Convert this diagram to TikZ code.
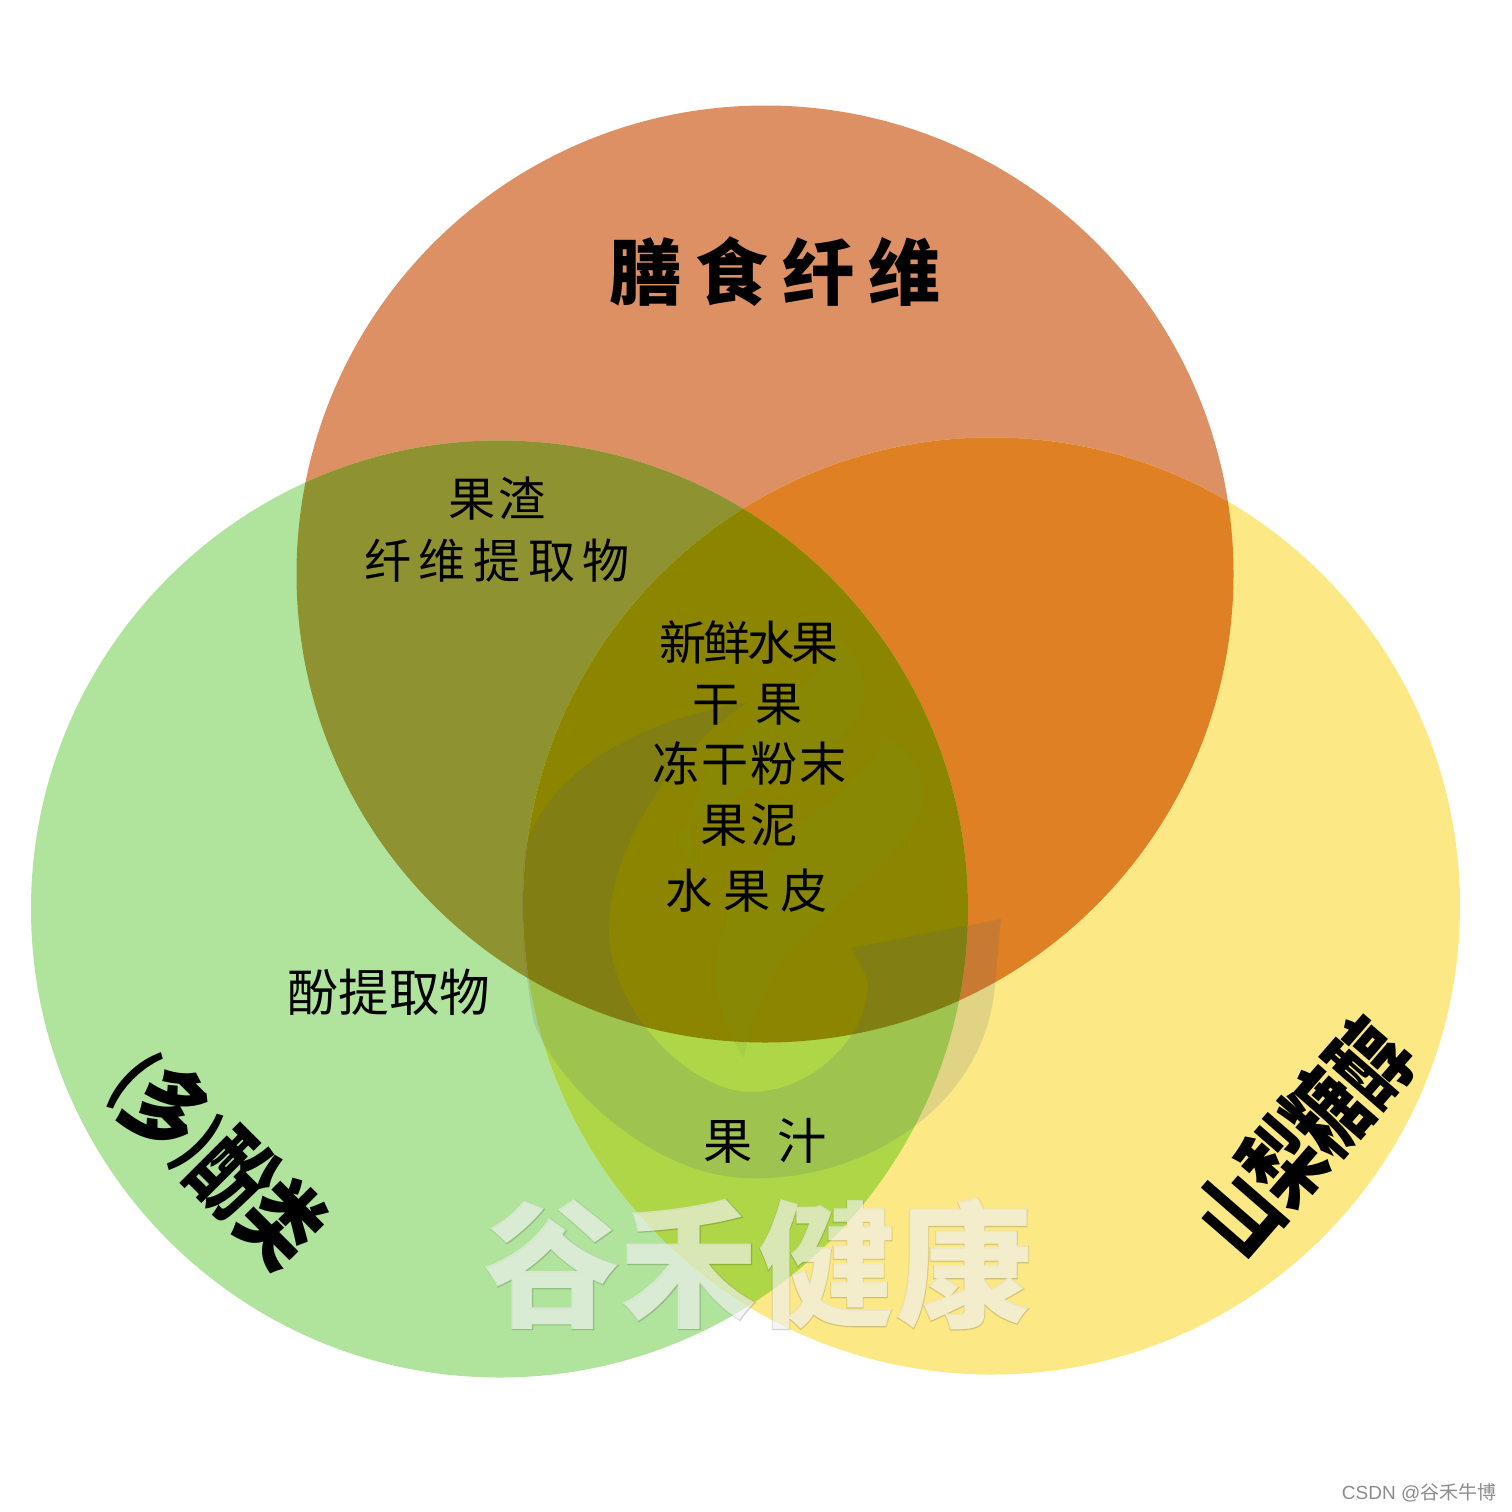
\documentclass[tikz,border=0pt]{standalone}
\usepackage{fontspec}
\setmainfont{Liberation Sans}
\newfontfamily\cjk{Noto Sans CJK SC}
\newfontfamily\cjkblack{Noto Sans CJK SC Black}
\newfontfamily\cjkedge[FakeBold=1]{Noto Sans CJK SC Black}
\usetikzlibrary{positioning}
\definecolor{topc}{HTML}{DD9063}
\definecolor{leftc}{HTML}{B0E49C}
\definecolor{rightc}{HTML}{FCE985}
\definecolor{topleft}{HTML}{8F9230}
\definecolor{topright}{HTML}{E08025}
\definecolor{leftright}{HTML}{AFD647}
\definecolor{centerc}{HTML}{8C8500}
\definecolor{swirl}{HTML}{475882}
\definecolor{flame}{HTML}{6FA030}
\newcommand{\markword}[1]{%
  \pgfsetfillopacity{0.1}\pgfsetstrokeopacity{0.1}\color{black}\rlap{\cjkedge #1}%
  \pgfsetfillopacity{0.62}\pgfsetstrokeopacity{0.62}\color{white}{\cjkblack #1}}

\begin{document}
\begin{tikzpicture}[
  x=0.01cm, y=-0.01cm,
  every node/.style={inner sep=0pt, text=black, align=center},
  item/.style={font=\cjk\fontsize{13.4}{16}\selectfont},
  title/.style={font=\cjkblack\fontsize{20.5}{24}\selectfont},
  squeezed/.style={font=\cjkblack\fontsize{27}{30}\selectfont, transform shape}
]

\useasboundingbox (0,0) rectangle (1512,1512);
\fill[white] (0,0) rectangle (1512,1512);

% three circles
\def\topdisc{(765,574) circle [radius=468.5]}
\def\leftdisc{(499.5,909) circle [radius=468.5]}
\def\rightdisc{(991.5,906) circle [radius=468.5]}

\fill[topc] \topdisc;
\fill[leftc] \leftdisc;
\fill[rightc] \rightdisc;

% overlaps
\begin{scope}
  \clip \topdisc;
  \fill[topleft] \leftdisc;
  \fill[topright] \rightdisc;
\end{scope}
\begin{scope}
  \clip \leftdisc;
  \fill[leftright] \rightdisc;
  \clip \rightdisc;
  \fill[centerc] \topdisc;
\end{scope}

% logo behind the text
\fill[swirl, opacity=0.15] (748,702)
  .. controls (640,720) and (550,770) .. (526,846)
  .. controls (520,880) and (520,950) .. (534,1023)
  .. controls (560,1090) and (660,1181) .. (755,1178)
  .. controls (860,1180) and (985,1110) .. (995,985)
  -- (1001,919)
  -- (851,948)
  .. controls (860,965) and (868,975) .. (868,988)
  .. controls (865,1040) and (810,1092) .. (751,1092)
  .. controls (690,1092) and (609,1010) .. (609,931)
  .. controls (609,840) and (680,745) .. (748,702) -- cycle;
\fill[flame, opacity=0.12] (837,635)
  .. controls (860,660) and (868,680) .. (863,705)
  .. controls (850,750) and (780,770) .. (730,800)
  .. controls (700,815) and (680,825) .. (680,835)
  .. controls (680,850) and (690,865) .. (700,870)
  .. controls (680,830) and (690,780) .. (740,735)
  .. controls (780,700) and (820,680) .. (837,635) -- cycle;
\fill[flame, opacity=0.12] (887,735)
  .. controls (915,755) and (925,775) .. (923,800)
  .. controls (915,850) and (840,900) .. (790,950)
  .. controls (765,985) and (750,1020) .. (744,1058)
  .. controls (725,1030) and (712,990) .. (716,965)
  .. controls (720,900) and (780,840) .. (830,800)
  .. controls (860,775) and (880,755) .. (887,735) -- cycle;

\node[title] (fiber) at (775,272) {\addfontfeature{LetterSpace=20}膳食纤维};

\node[item] (pomace) at (497,499) {\addfontfeature{LetterSpace=5}果渣};
\node[item] (extract) at (497,561) {\addfontfeature{LetterSpace=16}纤维提取物};

\node[item] (fresh) at (749,643) {\addfontfeature{LetterSpace=-6}新鲜水果};
\node[item] (dried) at (748,705) {干\hspace{4.5pt}果};
\node[item] (powder) at (750,763) {\addfontfeature{LetterSpace=4}冻干粉末};
\node[item] (puree) at (749,825) {\addfontfeature{LetterSpace=5}果泥};
\node[item] (peel) at (747,891) {\addfontfeature{LetterSpace=22}水果皮};

\node[item, font=\cjk\fontsize{14.4}{17}\selectfont] (phenol) at (389,992) {酚提取物};
\node[item, font=\cjk\fontsize{14}{17}\selectfont] (juice) at (765,1141) {果\hspace{7pt}汁};

\node[squeezed, rotate=-45, xscale=0.74] (poly) at (218,1158) {\raisebox{2.3pt}{\fontsize{21}{24}\selectfont(}多\raisebox{2.3pt}{\fontsize{21}{24}\selectfont)}酚类};
\node[squeezed, rotate=49, xscale=0.71] (sugar) at (1304,1137) {山梨糖醇};

% watermark
\node[font=\fontsize{39}{42}\selectfont] (mark) at (758,1264) {\markword{谷禾健康}};

\node[font=\fontsize{5.4}{7}\selectfont, text=black!45, anchor=east] (credit) at (1497,1493) {CSDN @{\cjk 谷禾牛博}};

\end{tikzpicture}
\end{document}
